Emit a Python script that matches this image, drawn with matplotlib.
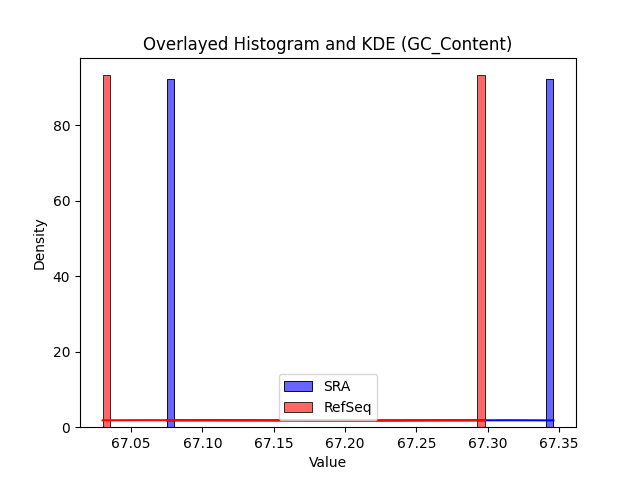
#!/usr/bin/env python3

import sys

import matplotlib
matplotlib.use('Agg')
import matplotlib.pyplot as plt
import seaborn as sns

# GC content values (%) per source, two samples at each value
sra_gc = [67.075, 67.075, 67.346, 67.346]
refseq_gc = [67.030, 67.030, 67.298, 67.298]

series_names = ['SRA', 'RefSeq']
series_colors = ['blue', 'red']


def plot_overlay(datasets, outfn):
    fig, ax = plt.subplots(figsize=(6.4, 4.8), dpi=100)
    for data, name, color in datasets:
        sns.histplot(data, bins=50, stat='density', kde=True,
                color=color, alpha=0.6, label=name, ax=ax)
    ax.set_title('Overlayed Histogram and KDE (GC_Content)')
    ax.set_xlabel('Value')
    ax.set_ylabel('Density')
    ax.legend(loc='lower center')
    fig.savefig(outfn)
    plt.close(fig)


def main():
    datasets = zip([sra_gc, refseq_gc], series_names, series_colors)
    plot_overlay(list(datasets), 'out.png')


if __name__ == '__main__':
    sys.exit(main())
